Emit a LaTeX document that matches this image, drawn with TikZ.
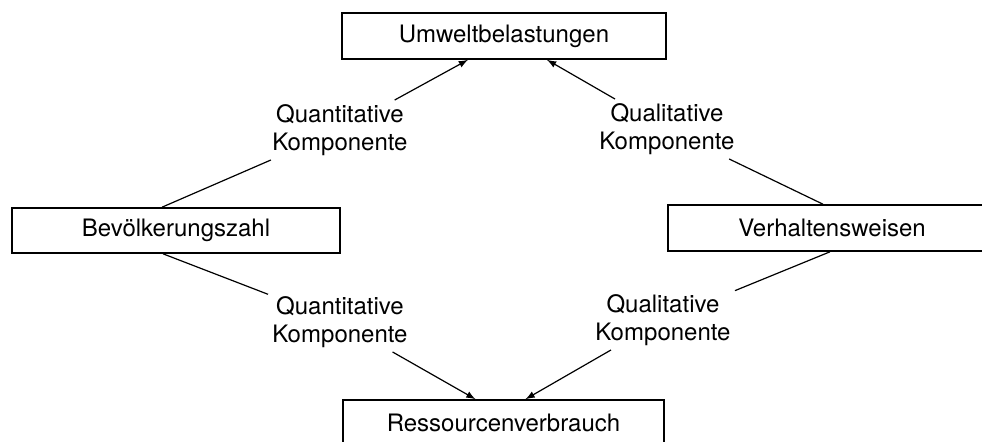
\documentclass[tikz,border=0pt]{standalone}
\usepackage{fontspec}
\setmainfont{TeX Gyre Heros}
\usetikzlibrary{arrows}
\tikzset{
  font={\fontsize{12pt}{14pt}\selectfont},
  kasten/.style={draw,line width=0.8pt,minimum width=164pt,minimum height=22.5pt,inner sep=0pt},
  komp/.style={align=center,inner sep=2pt},
  linie/.style={line width=0.6pt},
  pfeil/.style={line width=0.6pt,-latex}}

\begin{document}
\begin{tikzpicture}[x=0.5pt,y=-0.5pt]
\clip (0,0) rectangle (982,441);
\node[kasten,minimum width=162pt,minimum height=23pt] (umw) at (504,36) {Umweltbelastungen};
\node[kasten] (bev) at (176,230.5) {Bevölkerungszahl};
\node[kasten,minimum height=23pt] (ver) at (832,228) {Verhaltensweisen};
\node[kasten,minimum width=160.5pt] (res) at (503.5,422.5) {Ressourcenverbrauch};
\node[komp] (quanoben)  at (340,130) {Quantitative\\Komponente};
\node[komp] (qualoben)  at (667,129) {Qualitative\\Komponente};
\node[komp] (quanunten) at (340,322) {Quantitative\\Komponente};
\node[komp] (qualunten) at (663,320) {Qualitative\\Komponente};
\draw[linie] ([xshift=-7pt]bev.north) -- (quanoben);
\draw[pfeil] (quanoben) -- ([xshift=-18pt]umw.south);
\draw[linie] ([xshift=-4.5pt]ver.north) -- (qualoben);
\draw[pfeil] (qualoben) -- ([xshift=21.5pt]umw.south);
\draw[linie] ([xshift=-6.5pt]bev.south) -- (quanunten);
\draw[pfeil] (quanunten) -- ([xshift=-14pt]res.north);
\draw[linie] ([xshift=-1pt]ver.south) -- (qualunten);
\draw[pfeil] (qualunten) -- ([xshift=11pt]res.north);
\end{tikzpicture}
\end{document}
